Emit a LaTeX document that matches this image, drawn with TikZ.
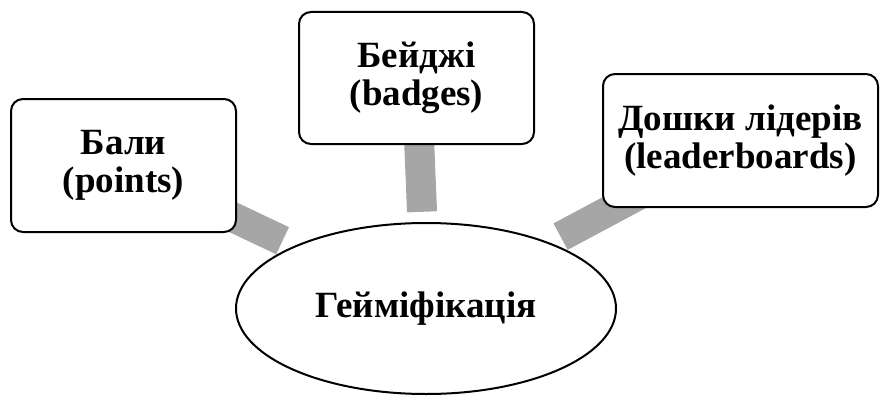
\documentclass[tikz,border=0pt]{standalone}
\usepackage{fontspec}
\setmainfont{Liberation Serif}
\usetikzlibrary{shapes.geometric,backgrounds}
\definecolor{bargray}{RGB}{166,166,166}
\begin{document}
\begin{tikzpicture}[x=1pt,y=-1pt,
  box/.style={draw, line width=2pt, rounded corners=12pt, fill=white, align=center,
    font=\bfseries\fontsize{37}{38}\selectfont, inner sep=0pt},
  hub/.style={ellipse, draw, line width=2pt, fill=white, inner sep=0pt,
    minimum width=380pt, minimum height=171pt, font=\bfseries\fontsize{37}{38}\selectfont},
  hubzone/.style={ellipse, inner sep=0pt, minimum width=402pt, minimum height=193pt},
  bar/.style={draw=bargray, line width=30pt}]
\useasboundingbox (0,0) rectangle (880,396);
\node[hub] (g) at (426,308.5) {Гейміфікація};
\node[hubzone] (gz) at (426,308.5) {};
\node[box, minimum width=225pt, minimum height=133pt] (b1) at (123.5,165.5) {Бали\\(points)};
\node[box, minimum width=235pt, minimum height=132pt] (b2) at (416.5,78) {Бейджі\\(badges)};
\node[box, minimum width=275pt, minimum height=133pt] (b3) at (740.5,140.5) {Дошки лідерів\\(leaderboards)};
\begin{scope}[on background layer]
  \draw[bar] (b1.center) -- (gz);
  \draw[bar] (b2.center) -- (gz);
  \draw[bar] (b3.center) -- (gz);
\end{scope}
\end{tikzpicture}
\end{document}
